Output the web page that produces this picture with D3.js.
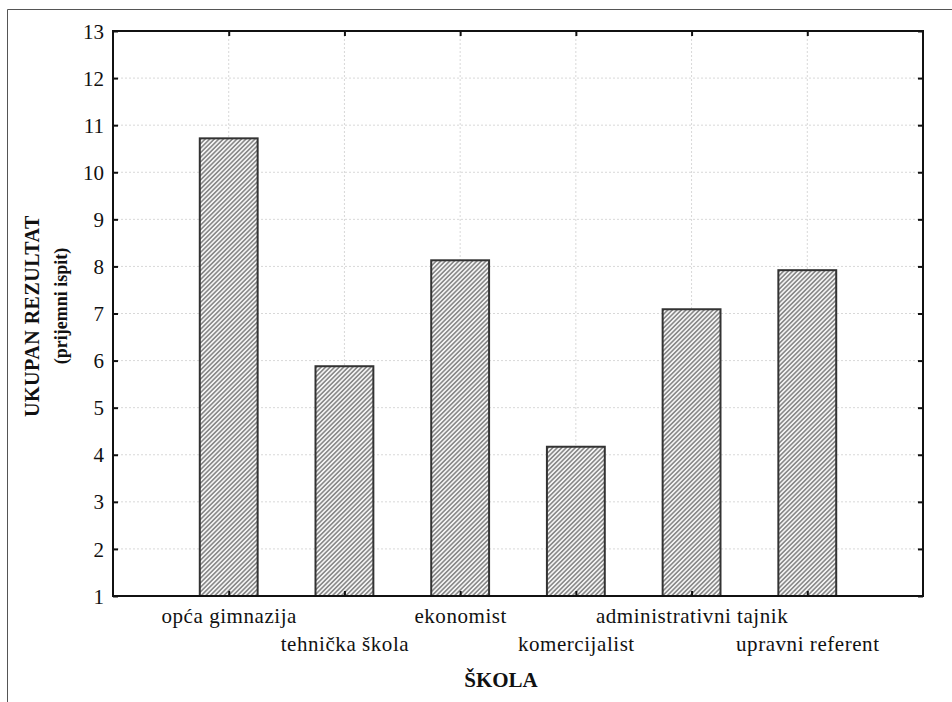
<!DOCTYPE html>
<html>
<head>
<meta charset="utf-8">
<script src="https://cdn.jsdelivr.net/npm/d3@7"></script>
<style>
  body { margin: 0; background: #fff; }
</style>
</head>
<body>
<div id="chart"></div>
<script>
const schools = ['opća gimnazija', 'tehnička škola', 'ekonomist', 'komercijalist', 'administrativni tajnik', 'upravni referent'];
const scores = [10.72, 5.88, 8.13, 4.17, 7.09, 7.92];
const yTicks = [1, 2, 3, 4, 5, 6, 7, 8, 9, 10, 11, 12, 13];

const serif = "'Liberation Serif', 'Times New Roman', serif";
const width = 952;
const height = 702;
const margin = { top: 31, right: 29, bottom: 106, left: 113 };
const innerW = width - margin.left - margin.right;
const innerH = height - margin.top - margin.bottom;

const svg = d3
  .select('#chart')
  .append('svg')
  .attr('width', width)
  .attr('height', height)
  .style('font-family', serif);

// hatch fill for the bars
const pattern = svg
  .append('defs')
  .append('pattern')
  .attr('id', 'hatch')
  .attr('patternUnits', 'userSpaceOnUse')
  .attr('width', 3.2)
  .attr('height', 3.2)
  .attr('patternTransform', 'rotate(45)');
pattern.append('rect').attr('width', 3.2).attr('height', 3.2).attr('fill', '#f4f4f4');
pattern
  .append('line')
  .attr('x1', 0.8)
  .attr('y1', 0)
  .attr('x2', 0.8)
  .attr('y2', 3.2)
  .attr('stroke', '#5a5a5a')
  .attr('stroke-width', 1.1);

// outer page frame (top and left edges only)
svg
  .append('path')
  .attr('d', `M7.5,${height} V9.5 H${width}`)
  .attr('fill', 'none')
  .attr('stroke', '#555')
  .attr('stroke-width', 1);

const g = svg.append('g').attr('transform', `translate(${margin.left},${margin.top})`);

const x = d3.scalePoint().domain(schools).range([0, innerW]).padding(1);
const y = d3.scaleLinear().domain([1, 13]).range([innerH, 0]);
const barW = x.step() * 0.5;

// dotted grid
g.append('g')
  .selectAll('line')
  .data(yTicks.slice(1, -1))
  .enter()
  .append('line')
  .attr('x1', 0)
  .attr('x2', innerW)
  .attr('y1', d => y(d))
  .attr('y2', d => y(d))
  .attr('stroke', '#d8d8d8')
  .attr('stroke-dasharray', '2,2');

g.append('g')
  .selectAll('line')
  .data(schools)
  .enter()
  .append('line')
  .attr('x1', d => x(d))
  .attr('x2', d => x(d))
  .attr('y1', 0)
  .attr('y2', innerH)
  .attr('stroke', '#d8d8d8')
  .attr('stroke-dasharray', '2,2');

// bars
g.append('g')
  .selectAll('rect')
  .data(schools)
  .enter()
  .append('rect')
  .attr('x', d => x(d) - barW / 2)
  .attr('y', (d, i) => y(scores[i]))
  .attr('width', barW)
  .attr('height', (d, i) => y(1) - y(scores[i]))
  .attr('fill', 'url(#hatch)')
  .attr('stroke', '#333')
  .attr('stroke-width', 2);

// axes, ticks pointing inwards
const axLeft = g
  .append('g')
  .call(d3.axisLeft(y).tickValues(yTicks).tickSize(-5).tickFormat(d3.format('d')));
const axRight = g
  .append('g')
  .attr('transform', `translate(${innerW},0)`)
  .call(d3.axisRight(y).tickValues(yTicks).tickSize(-5).tickFormat(''));
const axTop = g.append('g').call(d3.axisTop(x).tickSize(-5).tickFormat(''));
const axBottom = g
  .append('g')
  .attr('transform', `translate(0,${innerH})`)
  .call(d3.axisBottom(x).tickSize(-5).tickPadding(0));

[axLeft, axRight, axTop, axBottom].forEach(a => {
  a.attr('font-family', null).attr('font-size', null);
  a.select('.domain').remove();
  a.selectAll('.tick line').attr('stroke', '#111').attr('stroke-width', 2);
});

axLeft
  .selectAll('.tick text')
  .style('font-family', serif)
  .style('font-size', '21px')
  .attr('fill', '#111')
  .attr('x', -9)
  .attr('dy', '0.34em');

// staggered category labels
axBottom
  .selectAll('.tick text')
  .style('font-family', serif)
  .style('font-size', '21px')
  .style('letter-spacing', '0.55px')
  .attr('fill', '#111')
  .attr('dy', null)
  .attr('y', (d, i) => (i % 2 === 0 ? 27 : 55));

// plot frame
g.append('rect')
  .attr('width', innerW)
  .attr('height', innerH)
  .attr('fill', 'none')
  .attr('stroke', '#111')
  .attr('stroke-width', 2);

// axis titles
svg
  .append('text')
  .attr('transform', 'translate(39,316) rotate(-90)')
  .attr('text-anchor', 'middle')
  .style('font-size', '20px')
  .style('font-weight', 'bold')
  .style('letter-spacing', '0.5px')
  .attr('fill', '#111')
  .text('UKUPAN REZULTAT');

svg
  .append('text')
  .attr('transform', 'translate(67,306) rotate(-90)')
  .attr('text-anchor', 'middle')
  .style('font-size', '18px')
  .style('font-weight', 'bold')
  .attr('fill', '#111')
  .text('(prijemni ispit)');

svg
  .append('text')
  .attr('x', 501)
  .attr('y', 687)
  .attr('text-anchor', 'middle')
  .style('font-size', '21px')
  .style('font-weight', 'bold')
  .attr('fill', '#111')
  .text('ŠKOLA');
</script>
</body>
</html>
